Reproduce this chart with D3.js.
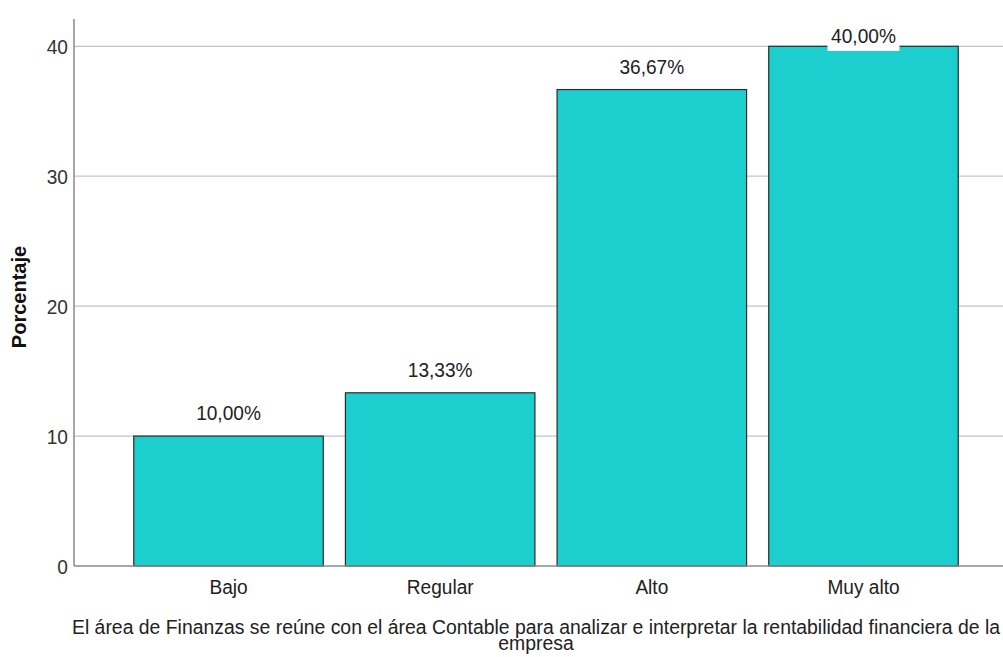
<!DOCTYPE html>
<html><head><meta charset="utf-8">
<script src="https://cdn.jsdelivr.net/npm/d3@7"></script>
<style>body{margin:0;background:#fff}svg{display:block}text{font-family:"Liberation Sans",Arial,sans-serif}</style>
</head><body><svg id="c" width="1003" height="657"></svg>
<script>
const categories = ["Bajo","Regular","Alto","Muy alto"];
const values = [10.00, 13.33, 36.67, 40.00];
const valueLabels = ["10,00%","13,33%","36,67%","40,00%"];
const yTicks = [0,10,20,30,40];
const yTitle = "Porcentaje";
const xTitleLines = ["El área de Finanzas se reúne con el área Contable para analizar e interpretar la rentabilidad financiera de la","empresa"];

const svg = d3.select("#c");
const FS = 21, SX = 0.91;
const x = d3.scaleBand().domain(categories).range([74,1018]).paddingInner(0.1).paddingOuter(0.28);
const y = d3.scaleLinear().domain([0,42.1]).range([566,19]);

function sText(g, px, py, str, anchor, opts={}){
  const gg = g.append("g").attr("transform",`translate(${px},${py}) scale(${opts.sx||SX},1)`);
  return gg.append("text").attr("text-anchor",anchor).attr("font-size",opts.fs||FS)
    .attr("fill",opts.fill||"#222").attr("font-weight",opts.fw||"normal").text(str);
}

// gridlines
svg.append("g").selectAll("line").data(yTicks.filter(d=>d>0)).join("line")
  .attr("x1",74).attr("x2",1003).attr("y1",d=>y(d)).attr("y2",d=>y(d))
  .attr("stroke","#c4c4c4").attr("stroke-width",1.2);

// y axis
const yAxis = svg.append("g").attr("transform","translate(74,0)")
  .call(d3.axisLeft(y).tickValues(yTicks).tickSize(0).tickPadding(6).tickFormat(d3.format("d")));
yAxis.select(".domain").remove();
yAxis.selectAll("text").remove();
yAxis.selectAll(".tick").each(function(d){
  sText(d3.select(this), -6, 7, String(d), "end", {fill:"#333"});
});

// bars
svg.append("g").selectAll("rect").data(values).join("rect")
  .attr("x",(d,i)=>x(categories[i])+0.5).attr("width",x.bandwidth()-1)
  .attr("y",d=>y(d)).attr("height",d=>y(0)-y(d))
  .attr("fill","#1ccece").attr("stroke","#2a2a2a").attr("stroke-width",1.2);

// baseline & axis line
svg.append("line").attr("x1",74).attr("x2",1003).attr("y1",y(0)).attr("y2",y(0)).attr("stroke","#8a8a8a").attr("stroke-width",1.5);
svg.append("line").attr("x1",74).attr("x2",74).attr("y1",y(42.1)).attr("y2",y(0)).attr("stroke","#8a8a8a").attr("stroke-width",1.5);

// value labels
const lg = svg.append("g");
values.forEach((v,i)=>{
  const cx = x(categories[i]) + x.bandwidth()/2;
  const by = Math.max(y(v)-16, 43);
  lg.append("rect").attr("x",cx-36).attr("y",by-16).attr("width",72).attr("height",24).attr("fill","#fff");
  sText(lg, cx, by, valueLabels[i], "middle", {fill:"#222"});
});

// x axis labels
const xAxis = svg.append("g").attr("transform",`translate(0,${y(0)})`)
  .call(d3.axisBottom(x).tickSize(0).tickPadding(0));
xAxis.select(".domain").remove();
xAxis.selectAll("text").remove();
xAxis.selectAll(".tick").each(function(d){
  sText(d3.select(this), 0, 28, d, "middle", {fill:"#222"});
});

// titles
xTitleLines.forEach((t,i)=> sText(svg, 536, 634 + i*16, t, "middle", {fill:"#222", sx:0.924}));
svg.append("text").attr("transform","translate(26,297) rotate(-90)").attr("text-anchor","middle")
  .attr("font-size",20).attr("font-weight","bold").attr("fill","#111").text(yTitle);
</script></body></html>
